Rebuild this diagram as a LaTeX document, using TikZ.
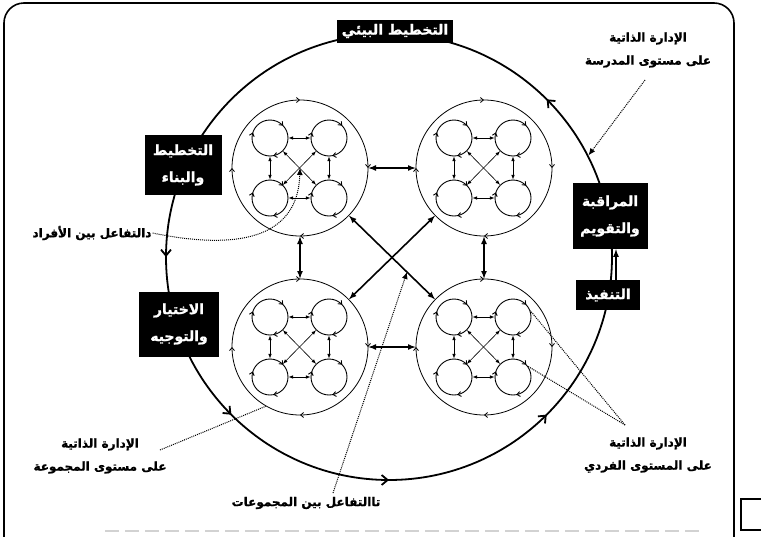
\documentclass[tikz,border=0pt]{standalone}
\usepackage{fontspec}
\usetikzlibrary{arrows.meta,decorations.markings}
\newfontfamily\arabicfont[Script=Arabic, BoldFeatures={FakeBold=1.2}]{DejaVu Sans}
\TeXXeTstate=1
\newcommand{\artext}[1]{\beginR #1\endR}

\tikzset{
  >=latex,
  % small circles (individuals), turning clockwise on the page
  unit/.style={circle, draw, line width=0.9pt, inner sep=0pt, minimum size=36pt,
    decoration={markings,
      mark=at position 0.12 with {\arrowreversed{Straight Barb[length=3pt,width=5pt]}},
      mark=at position 0.45 with {\arrowreversed{Straight Barb[length=3pt,width=5pt]}},
      mark=at position 0.78 with {\arrowreversed{Straight Barb[length=3pt,width=5pt]}}},
    postaction={decorate}},
  % group circles
  group/.style={circle, draw, line width=0.8pt, inner sep=0pt, minimum size=136pt,
    decoration={markings,
      mark=at position 0 with {\arrowreversed{Straight Barb[length=3pt,width=5pt]}},
      mark=at position 0.25 with {\arrowreversed{Straight Barb[length=3pt,width=5pt]}},
      mark=at position 0.5 with {\arrowreversed{Straight Barb[length=3pt,width=5pt]}},
      mark=at position 0.75 with {\arrowreversed{Straight Barb[length=3pt,width=5pt]}}},
    postaction={decorate}},
  % the school circle, turning anticlockwise on the page
  bigring/.style={circle, draw, line width=1.8pt, inner sep=0pt, minimum size=446pt,
    decoration={markings,
      mark=at position 0.125 with {\arrow{Straight Barb[length=6pt,width=10pt]}},
      mark=at position 0.417 with {\arrow{Straight Barb[length=6pt,width=10pt]}},
      mark=at position 0.5 with {\arrow{Straight Barb[length=6pt,width=10pt]}},
      mark=at position 0.625 with {\arrow{Straight Barb[length=6pt,width=10pt]}},
      mark=at position 0.75 with {\arrow{Straight Barb[length=6pt,width=10pt]}},
      mark=at position 0.875 with {\arrow{Straight Barb[length=6pt,width=10pt]}}},
    postaction={decorate}},
  lbl/.style={font=\arabicfont\bfseries\fontsize{12}{23}\selectfont, align=center, inner sep=1pt},
  stagebox/.style={font=\arabicfont\bfseries\fontsize{14}{27}\selectfont, align=center,
    fill=black, text=white, inner sep=2pt},
  leader/.style={densely dotted, line width=1pt},
  leadtip/.style={-{Latex[length=7pt,width=6pt]}},
  link/.style={<->, line width=0.6pt},
  grouplink/.style={<->, line width=1.6pt},
}

\begin{document}
\begin{tikzpicture}[x=1pt, y=-1pt]
\useasboundingbox (0,0) rectangle (761,536);

% frame
\draw[line width=1.6pt, rounded corners=20pt] (4,540) -- (4,3) -- (734,3) -- (734,540);
\draw[line width=1.2pt] (741,499) rectangle (770,530);
\draw[gray!35, dash pattern=on 14pt off 6pt, line width=2pt] (105,531) -- (705,531);

% school level
\node[bigring] (big) at (389,257) {};

% groups and individuals
\foreach \g/\cx/\cy in {tl/300/168, tr/484/168, bl/300/347, br/484/347} {
  \node[group] (\g) at (\cx,\cy) {};
  \node[unit] (\g1) at (\cx-30,\cy-30) {};
  \node[unit] (\g2) at (\cx+29,\cy-30) {};
  \node[unit] (\g3) at (\cx-30,\cy+30) {};
  \node[unit] (\g4) at (\cx+29,\cy+30) {};
  \draw[link] (\g1) -- (\g2);
  \draw[link] (\g3) -- (\g4);
  \draw[link] (\g1) -- (\g3);
  \draw[link] (\g2) -- (\g4);
  \draw[link] (\g1) -- (\g4);
  \draw[link] (\g2) -- (\g3);
}

% links between groups
\draw[grouplink] (tl) -- (tr);
\draw[grouplink] (bl) -- (br);
\draw[grouplink] (tl) -- (bl);
\draw[grouplink] (tr) -- (br);
\draw[grouplink] (tl) -- (br);
\draw[grouplink] (tr) -- (bl);

% stages on the school circle
\node[stagebox, minimum width=116pt, minimum height=23pt] (env) at (395,31) {\artext{التخطيط البيئي}};
\node[stagebox, minimum width=77pt, minimum height=60pt] (plan) at (183,165) {\artext{التخطيط}\\\artext{والبناء}};
\node[stagebox, minimum width=80pt, minimum height=65pt] (choose) at (179,324) {\artext{الاختيار}\\\artext{والتوجيه}};
\node[stagebox, minimum width=75pt, minimum height=66pt] (monitor) at (610,216) {\artext{المراقبة}\\\artext{والتقويم}};
\node[stagebox, minimum width=64pt, minimum height=30pt] (exec) at (608,295) {\artext{التنفيذ}};
\draw[->, line width=1.6pt] ([xshift=8pt]exec.north) -- ([xshift=6pt]monitor.south);

% labels and leaders
\node[lbl] (school) at (648,50) {\artext{الإدارة الذاتية}\\\artext{على مستوى المدرسة}};
\coordinate (schoolfoot) at (645,80);
\draw[leader, leadtip] (schoolfoot) -- (big.27);

\node[lbl] (indiv) at (92,233) {\artext{دالتفاعل بين الأفراد}};
\draw[leader, leadtip] (indiv.east) .. controls (235,250) and (298,240) .. (tl.center);

\node[lbl] (grplvl) at (100,456) {\artext{الإدارة الذاتية}\\\artext{على مستوى المجموعة}};
\coordinate (grpfoot) at (160,450);
\draw[leader] (grpfoot) -- (bl.240);

\node[lbl] (perslvl) at (648,455) {\artext{الإدارة الذاتية}\\\artext{على المستوى الفردي}};
\coordinate (persfoot) at (625,425);
\draw[leader] (persfoot) -- (br2.20);
\draw[leader] (persfoot) -- (br4.35);

\node[lbl] (between) at (306,503) {\artext{تاالتفاعل بين المجموعات}};
\coordinate (betweenfoot) at (333,493);
\coordinate (cross) at (407,272);
\draw[leader, leadtip] (betweenfoot) -- (cross);
\end{tikzpicture}
\end{document}
